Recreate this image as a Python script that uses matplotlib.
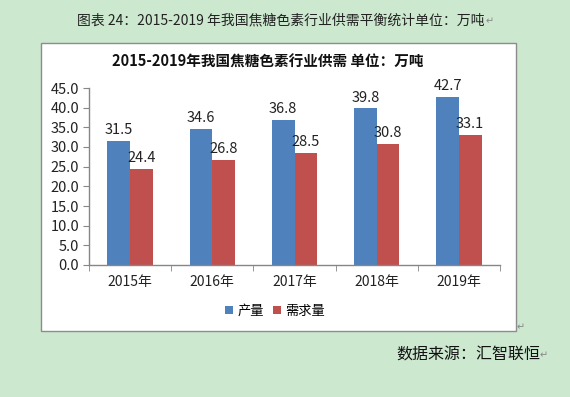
import numpy as np
import matplotlib
matplotlib.use('Agg')
import matplotlib.pyplot as plt
from matplotlib.patches import Rectangle

plt.rcParams['font.family'] = ['Noto Sans CJK SC', 'DejaVu Sans']

years = ['2015年', '2016年', '2017年', '2018年', '2019年']
output = [31.5, 34.6, 36.8, 39.8, 42.7]
demand = [24.4, 26.8, 28.5, 30.8, 33.1]
series_names = ['产量', '需求量']
yticks = np.arange(0, 45.1, 5)

blue = '#4F81BD'
red = '#C0504D'
axis_gray = '#868686'

fig = plt.figure(figsize=(5.7, 3.97), dpi=100)
fig.patch.set_facecolor('#CCE8CF')

# white chart box like the embedded excel chart
box = Rectangle((41 / 570, 1 - 331 / 397), 475 / 570, 288 / 397,
                transform=fig.transFigure, facecolor='white',
                edgecolor='#8C8C8C', linewidth=1.0, zorder=-1)
fig.patches.append(box)

fig.text(281 / 570, 1 - 20 / 397, '图表 24：2015-2019 年我国焦糖色素行业供需平衡统计单位：万吨',
         ha='center', va='center', fontsize=10, color='#222222')
fig.text(486 / 570, 1 - 21 / 397, '↵', ha='left', va='center', fontsize=7, color='#888888')
fig.text(268 / 570, 1 - 62 / 397, '2015-2019年我国焦糖色素行业供需 单位：万吨',
         ha='center', va='center', fontsize=10.5, fontweight='bold', color='#111111')
fig.text(396 / 570, 1 - 355 / 397, '数据来源：汇智联恒',
         ha='left', va='center', fontsize=11.5, color='#111111')
fig.text(540 / 570, 1 - 355 / 397, '↵', ha='left', va='center', fontsize=7, color='#888888')
fig.text(517 / 570, 1 - 327 / 397, '↵', ha='left', va='center', fontsize=7, color='#888888')

ax = fig.add_axes([89 / 570, 1 - 265 / 397, 411 / 570, 177 / 397])
ax.set_zorder(2)
ax.set_facecolor('none')

x = np.arange(len(years))
w = 0.275
b1 = ax.bar(x - w / 2, output, w, color=blue, label=series_names[0], zorder=2)
b2 = ax.bar(x + w / 2, demand, w, color=red, label=series_names[1], zorder=2)

for bars, vals in ((b1, output), (b2, demand)):
    for rect, v in zip(bars, vals):
        ax.text(rect.get_x() + rect.get_width() / 2, v + 1.0, f'{v:.1f}',
                ha='center', va='bottom', fontsize=10.5, color='#222222')

ax.set_xlim(-0.5, len(years) - 0.5)
ax.set_ylim(0, 45)
ax.set_yticks(yticks)
ax.set_yticklabels([f'{v:.1f}' for v in yticks], fontsize=10.5, color='#222222')
ax.set_xticks(x)
ax.set_xticklabels(years, fontsize=10, color='#222222')
ax.tick_params(axis='x', length=0, pad=7)
ax.set_xticks(np.arange(-0.5, len(years), 1), minor=True)
ax.tick_params(axis='x', which='minor', length=4, color=axis_gray)
ax.tick_params(axis='y', length=4, color=axis_gray, pad=3)

for s in ('top', 'right'):
    ax.spines[s].set_visible(False)
for s in ('left', 'bottom'):
    ax.spines[s].set_color(axis_gray)
    ax.spines[s].set_linewidth(1.0)

leg = fig.legend(handles=[b1, b2], loc='center', bbox_to_anchor=(275 / 570, 1 - 311 / 397),
                 ncol=2, frameon=False, fontsize=9.5, handlelength=0.6, handleheight=0.6,
                 handletextpad=0.3, columnspacing=0.7)
leg.set_zorder(3)

fig.savefig('out.png', dpi=100, facecolor=fig.get_facecolor())
